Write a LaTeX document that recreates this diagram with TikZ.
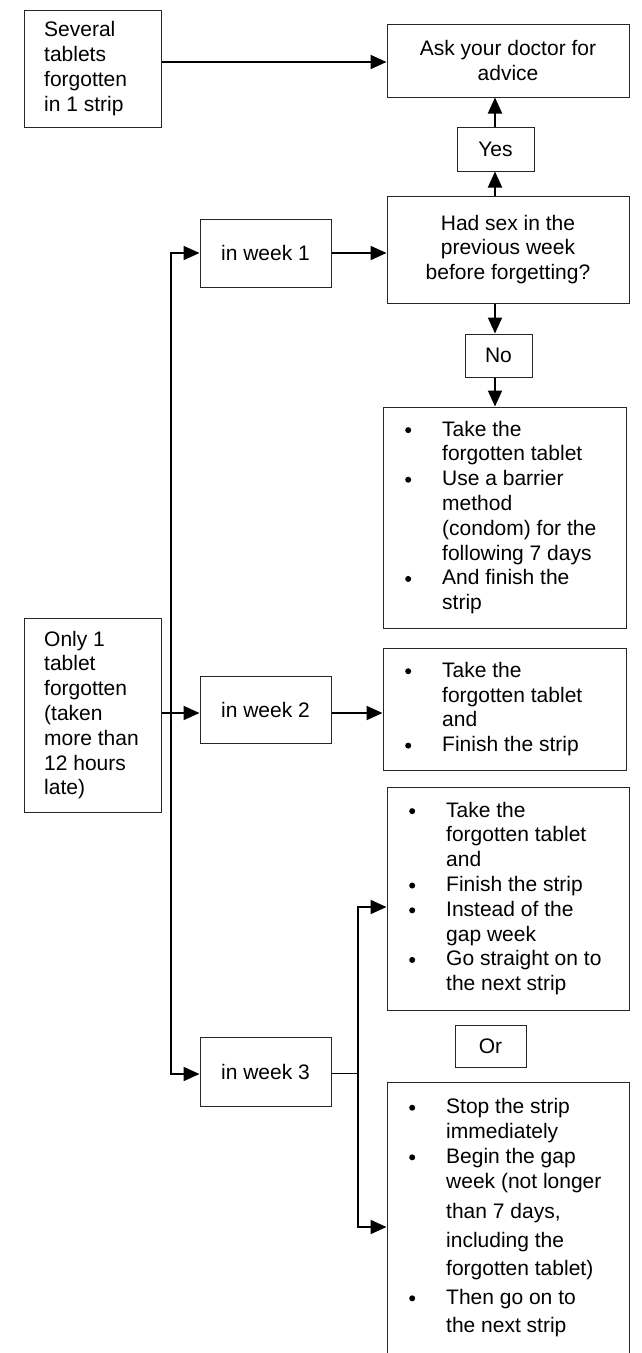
\documentclass[tikz,border=0pt]{standalone}
\usepackage{fontspec}
\setmainfont{Liberation Sans}
\usetikzlibrary{arrows.meta}
\newcommand{\fs}{\fontsize{21pt}{24.8pt}\selectfont}
\newcommand{\bul}{\leavevmode\llap{\tikz[x=1pt,y=1pt,baseline={(0,6)}]\fill (0,0) circle (3);\hspace{31pt}}}
\begin{document}
\begin{tikzpicture}[x=1pt,y=-1pt,
  box/.style={draw=black!85,line width=1pt,inner sep=0pt,font=\fs,align=center},
  txt/.style={inner sep=0pt,font=\fs,align=left,anchor=west},
  conn/.style={line width=2pt,-{Triangle[length=16pt,width=14pt]}},
  conn2/.style={line width=2pt,{Triangle[length=16pt,width=14pt]}-{Triangle[length=16pt,width=14pt]}},
  thin/.style={line width=1pt}
]
\fill[white] (0,0) rectangle (642,1353);
\useasboundingbox (0,0) rectangle (642,1353);

% boxes
\node[box,minimum width=137pt,minimum height=117pt] (a) at (92.5,68.5) {};
\node[box,minimum width=242pt,minimum height=73pt] (b) at (508,60.5) {Ask your doctor for\\advice};
\node[box,minimum width=77pt,minimum height=44pt] (yes) at (495.5,149) {Yes};
\node[box,minimum width=242pt,minimum height=107pt] (had) at (508,249.5) {Had sex in the\\previous week\\before forgetting?};
\node[box,minimum width=67pt,minimum height=43pt] (no) at (498.5,355.5) {No};
\node[box,minimum width=243pt,minimum height=221pt] (c) at (504.5,517.5) {};
\node[box,minimum width=131pt,minimum height=68pt] (w1) at (265.5,253) {in week 1};
\node[box,minimum width=131pt,minimum height=67pt] (w2) at (265.5,709.5) {in week 2};
\node[box,minimum width=131pt,minimum height=69pt] (w3) at (265.5,1071.5) {in week 3};
\node[box,minimum width=137pt,minimum height=194pt] (o1) at (92.5,715) {};
\node[box,minimum width=243pt,minimum height=122pt] (d) at (504.5,709) {};
\node[box,minimum width=242pt,minimum height=223pt] (e) at (508,898.5) {};
\node[box,minimum width=71pt,minimum height=42pt] (or) at (490.5,1046) {Or};
\node[box,minimum width=242pt,minimum height=278pt] (f) at (508,1221) {};

% texts
\node[txt] (at) at (44,68.5) {Several\\tablets\\forgotten\\in 1 strip};
\node[txt] (o1t) at (44,715) {Only 1\\tablet\\forgotten\\(taken\\more than\\12 hours\\late)};
\node[txt] (ct) at (442,517.5) {\bul Take the\\forgotten tablet\\\bul Use a barrier\\method\\(condom) for the\\following 7 days\\\bul And finish the\\strip};
\node[txt] (dt) at (442,709) {\bul Take the\\forgotten tablet\\and\\\bul Finish the strip};
\node[txt] (et) at (446,898.5) {\bul Take the\\forgotten tablet\\and\\\bul Finish the strip\\\bul Instead of the\\gap week\\\bul Go straight on to\\the next strip};
\node[txt] (ft) at (446,1217.5) {\bul Stop the strip\\immediately\\\bul Begin the gap\\week (not longer\\[6pt]than 7 days,\\[4pt]including the\\[3pt]forgotten tablet)\\[4pt]\bul Then go on to\\[3pt]the next strip};

% helper coordinates
\coordinate (yab) at (0,62);
\coordinate (ax) at (495,0);
\coordinate (sp1) at (171,253);
\coordinate (sp3) at (171,1074);
\coordinate (y2) at (0,713);
\coordinate (br) at (358,1073);
\coordinate (bE) at (358,907);
\coordinate (bF) at (358,1227);

% connectors
\draw[conn] (a.east |- yab) -- (b.west |- yab);
\draw[conn] (had.north -| ax) -- (yes.south -| ax);
\draw[conn] (yes.north -| ax) -- (b.south -| ax);
\draw[conn] (had.south -| ax) -- (no.north -| ax);
\draw[conn] (no.south -| ax) -- (c.north -| ax);
\draw[conn] (w1.east) -- (had.west |- w1.east);
\draw[conn2] (w1.west) -- (sp1) -- (sp3) -- (w3.west |- sp3);
\draw[conn] (o1.east |- y2) -- (w2.west |- y2);
\draw[conn] (w2.east |- y2) -- (d.west |- y2);
\draw[thin] (w3.east |- br) -- (br);
\draw[conn2] (e.west |- bE) -- (bE) -- (bF) -- (f.west |- bF);
\end{tikzpicture}
\end{document}
